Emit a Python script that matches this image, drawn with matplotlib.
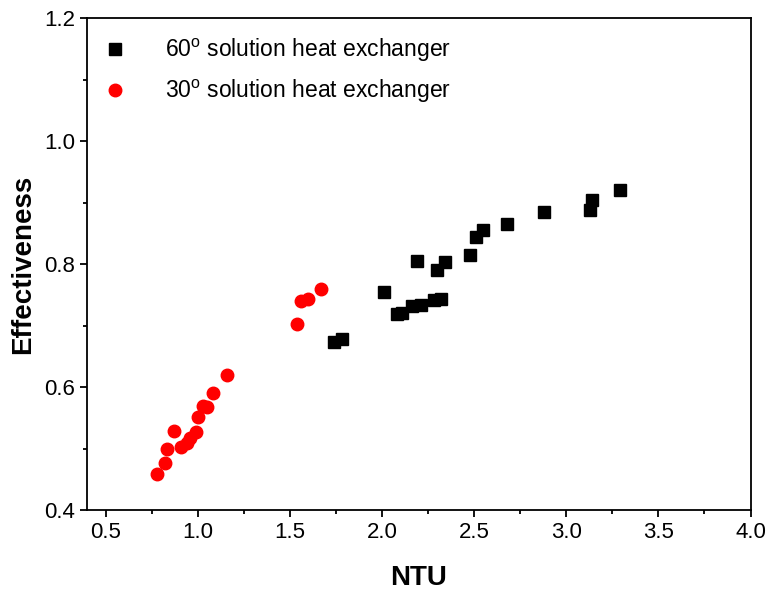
import numpy as np
import matplotlib
matplotlib.use('Agg')
import matplotlib.pyplot as plt
from matplotlib.ticker import MultipleLocator

plt.rcParams['font.family'] = ['Liberation Sans', 'DejaVu Sans']
plt.rcParams['mathtext.fontset'] = 'custom'
plt.rcParams['mathtext.rm'] = 'Liberation Sans'

# 60 degree solution heat exchanger
ntu_60 = [1.74, 1.78, 2.01, 2.08, 2.11, 2.16, 2.21, 2.19, 2.28, 2.32, 2.30, 2.34,
          2.48, 2.51, 2.55, 2.68, 2.88, 3.13, 3.14, 3.29]
eff_60 = [0.674, 0.678, 0.754, 0.719, 0.721, 0.732, 0.734, 0.806, 0.741, 0.744,
          0.791, 0.804, 0.815, 0.845, 0.856, 0.865, 0.885, 0.888, 0.904, 0.920]

# 30 degree solution heat exchanger
ntu_30 = [0.78, 0.82, 0.83, 0.87, 0.91, 0.94, 0.96, 0.99, 1.00, 1.03, 1.05, 1.08,
          1.16, 1.54, 1.56, 1.60, 1.67]
eff_30 = [0.459, 0.476, 0.500, 0.529, 0.502, 0.509, 0.517, 0.527, 0.552, 0.570,
          0.567, 0.591, 0.619, 0.702, 0.740, 0.743, 0.759]

fig = plt.figure(figsize=(7.69, 5.94), dpi=100)
ax = fig.add_axes([0.1135, 0.1414, 0.8625, 0.8276])

ax.plot(ntu_60, eff_60, 's', color='black', markersize=8, linestyle='none',
        label='60$^{\\mathrm{o}}$ solution heat exchanger')
ax.plot(ntu_30, eff_30, 'o', color='#ff0000', markersize=9, linestyle='none',
        label='30$^{\\mathrm{o}}$ solution heat exchanger')

ax.set_xlim(0.4, 4.0)
ax.set_ylim(0.4, 1.2)
ax.xaxis.set_minor_locator(MultipleLocator(0.25))
ax.yaxis.set_major_locator(MultipleLocator(0.2))
ax.yaxis.set_minor_locator(MultipleLocator(0.1))
ax.set_xticks(np.arange(0.5, 4.01, 0.5))
ax.tick_params(which='major', direction='out', length=5, width=1.3, labelsize=16)
ax.tick_params(which='minor', direction='out', length=3, width=1.3)
for s in ax.spines.values():
    s.set_linewidth(1.3)

ax.set_xlabel('NTU', fontsize=20, fontweight='bold', labelpad=16)
ax.set_ylabel('Effectiveness', fontsize=20, fontweight='bold', labelpad=6)

ax.legend(loc='upper left', frameon=False, fontsize=16.5, handlelength=0.8,
          handletextpad=1.8, borderaxespad=0.5, borderpad=0.3, labelspacing=0.6)

fig.savefig('out.png', dpi=100)
